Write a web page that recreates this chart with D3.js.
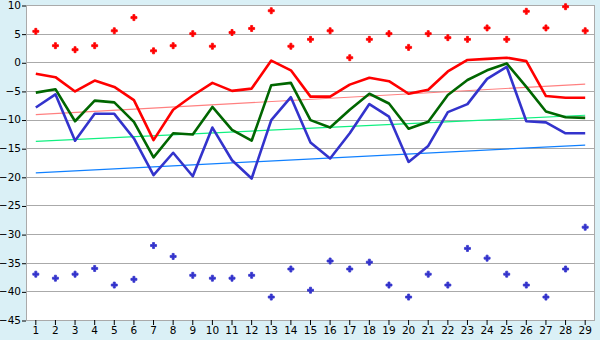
<!DOCTYPE html>
<html>
<head>
<meta charset="utf-8">
<script src="https://cdn.jsdelivr.net/npm/d3@7"></script>
<style>
  body { margin: 0; background: #daf0f6; }
  svg { display: block; font-family: 'DejaVu Sans', sans-serif; }
</style>
</head>
<body>
<div id="chart"></div>
<script>
const days = d3.range(1, 30)
const yTicks = d3.range(-45, 11, 5)

// scatter series
const highPoints = [5.4, 2.9, 2.2, 2.9, 5.5, 7.8, 2.0, 2.9, 5.0, 2.8, 5.2, 5.9, 9.0, 2.8, 4.0,
	5.5, 0.8, 4.0, 5.0, 2.6, 5.0, 4.3, 4.0, 6.0, 4.0, 8.9, 6.0, 9.7, 5.5]
const lowPoints = [-37.0, -37.7, -37.0, -36.0, -38.9, -37.9, -32.0, -33.9, -37.2, -37.7, -37.7, -37.2, -41.0, -36.1, -39.8,
	-34.7, -36.1, -34.9, -38.9, -41.0, -37.0, -38.9, -32.5, -34.2, -37.0, -38.9, -41.0, -36.1, -28.8]

// line series
const redLine = [-2.0, -2.6, -5.1, -3.2, -4.3, -6.6, -13.6, -8.3, -5.8, -3.6, -5.0, -4.6, 0.3, -1.4, -6.0,
	-6.0, -3.9, -2.7, -3.3, -5.5, -4.8, -1.6, 0.4, 0.6, 0.8, 0.2, -5.9, -6.2, -6.2]
const greenLine = [-5.3, -4.7, -10.3, -6.7, -7.0, -10.4, -16.6, -12.4, -12.6, -7.8, -11.8, -13.7, -4.0, -3.6, -10.1,
	-11.4, -8.3, -5.5, -7.2, -11.6, -10.4, -5.7, -3.1, -1.4, -0.2, -4.3, -8.6, -9.6, -9.7]
const blueLine = [-7.9, -5.6, -13.7, -9.0, -9.0, -13.3, -19.7, -15.8, -19.9, -11.4, -17.1, -20.3, -10.1, -6.1, -14.0,
	-16.8, -12.4, -7.3, -9.5, -17.4, -14.6, -8.7, -7.3, -2.9, -0.8, -10.3, -10.5, -12.4, -12.4]

// trend lines: value at first and last day
const redTrend = [-9.15, -3.8]
const greenTrend = [-13.8, -9.25]
const blueTrend = [-19.3, -14.45]

const width = 600
const height = 340
const margin = {top: 5, right: 5, bottom: 20, left: 26}

const svg = d3.select('#chart')
	.append('svg')
	.attr('width', width)
	.attr('height', height)

const x = d3.scaleBand()
	.domain(days)
	.range([margin.left, width - margin.right])

const y = d3.scaleLinear()
	.domain([-45, 10])
	.range([height - margin.bottom, margin.top])

const cx = d => x(d) + x.bandwidth() / 2

svg.append('rect')
	.attr('x', margin.left)
	.attr('y', margin.top)
	.attr('width', width - margin.left - margin.right)
	.attr('height', height - margin.top - margin.bottom)
	.attr('fill', '#fff')

// grid
svg.append('g')
	.selectAll('line')
	.data(yTicks)
	.join('line')
	.attr('x1', margin.left)
	.attr('x2', width - margin.right)
	.attr('y1', d => Math.round(y(d)) + 0.5)
	.attr('y2', d => Math.round(y(d)) + 0.5)
	.attr('stroke', '#aaa')

// frame: left and right edges
svg.append('line')
	.attr('x1', margin.left + 0.5).attr('x2', margin.left + 0.5)
	.attr('y1', margin.top).attr('y2', height - margin.bottom)
	.attr('stroke', '#aaa')
svg.append('line')
	.attr('x1', width - margin.right - 0.5).attr('x2', width - margin.right - 0.5)
	.attr('y1', margin.top).attr('y2', height - margin.bottom)
	.attr('stroke', '#aaa')

// axes
const yAxis = svg.append('g')
	.attr('transform', `translate(${margin.left},0)`)
	.call(d3.axisLeft(y).tickValues(yTicks).tickSize(4).tickPadding(1))
yAxis.select('.domain').remove()
yAxis.selectAll('.tick line').attr('transform', 'translate(0,0.5)')

const xAxis = svg.append('g')
	.attr('transform', `translate(0,${height - margin.bottom})`)
	.call(d3.axisBottom(x).tickSize(5).tickPadding(2))
xAxis.select('.domain').remove()

svg.selectAll('.tick text')
	.attr('font-family', "'DejaVu Sans', sans-serif")
	.attr('font-size', 10.5)
	.attr('fill', '#000')

// trend lines
const trends = [
	{vals: redTrend, color: '#ff8080'},
	{vals: greenTrend, color: '#10f080'},
	{vals: blueTrend, color: '#1080ff'}
]
svg.append('g')
	.selectAll('line')
	.data(trends)
	.join('line')
	.attr('x1', cx(days[0]))
	.attr('x2', cx(days[days.length - 1]))
	.attr('y1', d => y(d.vals[0]))
	.attr('y2', d => y(d.vals[1]))
	.attr('stroke', d => d.color)
	.attr('stroke-width', 1.2)

// series lines
const line = d3.line()
	.x((d, i) => cx(days[i]))
	.y(d => y(d))

const series = [
	{vals: redLine, color: '#ff0000'},
	{vals: greenLine, color: '#006600'},
	{vals: blueLine, color: '#3333cc'}
]
svg.append('g')
	.selectAll('path')
	.data(series)
	.join('path')
	.attr('d', d => line(d.vals))
	.attr('fill', 'none')
	.attr('stroke', d => d.color)
	.attr('stroke-width', 2.6)
	.attr('stroke-linejoin', 'round')

// scatter markers
const cross = d3.symbol().type(d3.symbolCross).size(20)
const scatter = [
	{vals: highPoints, color: '#ff0000'},
	{vals: lowPoints, color: '#3333cc'}
]
scatter.forEach(s => {
	svg.append('g')
		.selectAll('path')
		.data(s.vals)
		.join('path')
		.attr('d', cross)
		.attr('transform', (d, i) => `translate(${cx(days[i])},${y(d)})`)
		.attr('fill', s.color)
		.attr('stroke', s.color)
		.attr('stroke-width', 0.8)
		.attr('stroke-linejoin', 'round')
})
</script>
</body>
</html>
